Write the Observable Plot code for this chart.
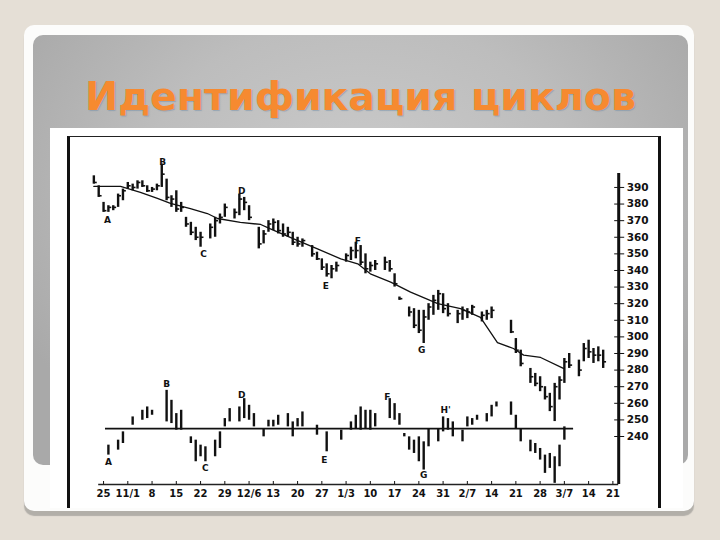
<!DOCTYPE html>
<html><head><meta charset="utf-8">
<script src="https://cdn.jsdelivr.net/npm/d3@7"></script>
<script src="https://cdn.jsdelivr.net/npm/@observablehq/plot@0.6"></script>
<style>
html,body{margin:0;padding:0}
body{width:720px;height:540px;background:#e5dfd6;position:relative;overflow:hidden;font-family:"DejaVu Sans",sans-serif}
#card{position:absolute;left:24px;top:25px;width:670px;height:486px;background:#fcfcfb;border-radius:10px;box-shadow:0 5px 1px #b2afa9}
#gray{position:absolute;left:33px;top:35px;width:655px;height:430px;border-radius:10px;background:radial-gradient(ellipse 60% 70% at 50% 35%,#cbcbcb 0%,#bdbdbd 55%,#a9a9a9 100%)}
#title{position:absolute;left:33px;top:73px;width:655px;text-align:center;font-family:"DejaVu Sans";font-weight:bold;font-size:39.5px;color:#f68a30;text-shadow:1px 1px 1px rgba(110,140,170,0.5)}
#chart{position:absolute;left:50px;top:128px;width:633px;height:380px;background:#fff}
#frame{position:absolute;left:17px;top:8px;width:594px;height:372px;border-left:3px solid #111;border-top:1.5px solid #222;border-right:3px solid #111;box-sizing:border-box}
#chart svg{position:absolute;left:0;top:0}
</style>
</head><body>
<div id="card"></div>
<div id="gray"></div>
<div id="title">Идентификация циклов</div>
<div id="chart"><div id="frame"></div></div>
<script>
// ---- price bars (trading-day index, high, low, close) ----
const barIdx   = [-2,-1,0,1,2,3,4,5,6,7,8,9,10,11,12,13,14,15,16,17,18,19,20,22,23,24,25,27,28,29,30,32,33,34,35,36,37,38,39,40,41,43,44,45,46,47,48,50,51,52,53,54,55,56,58,59,60,61,63,64,65,66,67,68,69,70,71,73,74,75,76,78,79,80,84,85,86,88,89,90,91,92,93,94,95,96,98,99,100,101,102,103];
const barHigh  = [397,391,381,379,379,386,389,393,392,394,394,391,390,392,404,395,385,388,381,372,369,366,363,368,372,374,380,377,386,384,379,366,364,370,371,370,368,366,363,360,359,355,351,347,344,343,345,350,354,357,355,350,345,346,348,346,338,324,318,317,316,316,320,325,328,326,320,316,318,317,319,315,316,318,310,299,292,281,278,276,270,266,272,276,287,290,286,296,298,293,294,292];
const barLow   = [392,384,375,375,376,378,382,389,388,389,390,387,387,388,390,382,378,375,375,366,361,358,354,359,360,368,372,371,373,376,370,353,356,363,364,362,360,360,355,354,354,348,346,340,336,335,339,345,346,347,343,338,339,340,340,339,330,322,312,305,302,296,310,313,316,314,312,308,310,311,313,309,310,311,302,290,282,272,270,267,262,255,249,262,272,281,276,285,287,284,285,281];
const barClose = [393,385,376,378,378,385,388,391,390,393,391,388,389,391,398,384,383,377,378,368,363,360,360,366,370,372,378,375,383,381,372,356,362,368,369,364,362,363,357,356,358,350,347,342,338,341,343,349,352,352,345,341,343,344,345,341,332,323,315,307,304,312,318,322,326,317,314,314,316,315,318,313,314,316,303,292,284,276,272,270,264,258,270,274,285,283,280,293,291,289,289,285];

// ---- moving average (vertices) ----
const maIdx = [-2,3.5,7.6,11.1,13.8,17.9,21.4,23.5,28.2,32.4,34.4,39.2,44.1,48.9,52.4,55,59.2,63.3,68.9,73.6,77.7,81.2,84.5,86.6,90.1,94.8];
const maVal = [390.6,390.6,387,383.4,380.4,377.3,374.3,371.3,369,367.7,365,359,353,347,344,338,333,327,320,317,311.7,296.6,293,289,287.6,281];

// ---- oscillator bars (index, high, low) ----
const oscIdx  = [1,3,4,6,8,9,10,13,14,15,16,18,19,20,21,23,24,25,26,28,29,30,31,33,34,35,36,38,39,40,41,44,46,49,51,52,53,54,55,56,59,60,61,62,63,64,65,66,67,69,70,71,72,74,75,76,77,79,80,81,84,85,86,88,89,90,91,92,93,94,95];
const oscHigh = [-10,-7,-2,7,11,13,11,23,17,9,11,-5,-7,-10,-11,-7,-2,6,12,13,18,14,9,0,5,5,8,9,4,6,10,2,-2,-1,4,8,13,11,11,9,18,15,9,-3,-5,-7,-5,-8,0,0,7,6,4,-1,7,6,8,9,14,16,16,8,0,-7,-9,-12,-16,-15,-17,-10,1];
const oscLow  = [-16,-13,-9,2,5,6,8,4,3,-1,-1,-9,-20,-17,-20,-17,-12,1,4,4,6,5,1,-5,1,1,2,1,-5,1,1,-4,-14,-7,-1,0,-1,0,-1,1,6,5,2,-5,-13,-15,-20,-25,-11,-8,-2,-1,-5,-8,1,2,5,4,7,13,8,0,-8,-14,-15,-19,-27,-24,-33,-23,-7];
const oscZeroFrom = 0.4, oscZeroTo = 96.9;

// ---- letter annotations ----
const priceLabelText = ["A","B","C","D","E","F","G"];
const priceLabelIdx  = [0.8,12.2,20.6,28.5,45.8,52.4,65.6];
const priceLabelVal  = [370.5,405,350,387.5,330.5,357.5,292];
const oscLabelText = ["A","B","C","D","E","F","G","H'"];
const oscLabelIdx  = [1,13,21,28.5,45.5,58.5,66,70.5];
const oscLabelVal  = [-20,27,-24,20,-19,19,-28,11];

// ---- axes ----
const yTicks = [390,380,370,360,350,340,330,320,310,300,290,280,270,260,250,240];
const xTickIdx = [0,5,10,15,20,25,30,35,40,45,50,55,60,65,70,75,80,85,90,95,100,105];
const xLabels = ["25","11/1","8","15","22","29","12/6","13","20","27","1/3","10","17","24","31","2/7","14","21","28","3/7","14","21"];

const bars = barIdx.map((d,k)=>({i:d,hi:barHigh[k],lo:barLow[k],c:barClose[k]}));
const ma = maIdx.map((d,k)=>({i:d,v:maVal[k]}));
const osc = oscIdx.map((d,k)=>({i:d,hi:oscHigh[k],lo:oscLow[k]}));
const pLab = priceLabelText.map((t,k)=>({t,i:priceLabelIdx[k],v:priceLabelVal[k]}));
const oLab = oscLabelText.map((t,k)=>({t,i:oscLabelIdx[k],v:oscLabelVal[k]}));

const xDomain = [-1,106.2];
const yDomain = [211.1,398.4];
const common = {width:633,height:380,marginLeft:48.2,marginRight:64.8,marginTop:45,marginBottom:24,
  style:{background:"transparent",color:"#111",fontFamily:"DejaVu Sans",fontWeight:"bold",fontSize:"10px",overflow:"visible"}};

const pricePlot = Plot.plot({
  ...common,
  x:{domain:xDomain,axis:null},
  y:{domain:yDomain,axis:null},
  marks:[
    Plot.ruleX([xDomain[1]],{stroke:"#111",strokeWidth:3}),
    Plot.ruleY([yDomain[0]],{stroke:"#222",strokeWidth:1.5}),
    Plot.axisY({anchor:"right",ticks:yTicks,tickSize:5,tickPadding:3,label:null,fontSize:10.5}),
    Plot.axisY({anchor:"right",ticks:yTicks,tickSize:-5,tickFormat:()=>"",label:null}),
    Plot.axisX({ticks:xTickIdx,tickSize:0,tickPadding:5,label:null,tickFormat:d=>xLabels[xTickIdx.indexOf(d)],fontSize:10}),
    Plot.axisX({ticks:xTickIdx,tickSize:-3,tickFormat:()=>"",label:null}),
    Plot.ruleX(bars,{x:"i",y1:"lo",y2:"hi",stroke:"#111",strokeWidth:2.4}),
    Plot.ruleY(bars,{y:"c",x1:"i",x2:d=>d.i+0.7,stroke:"#111",strokeWidth:1.6}),
    Plot.line(ma,{x:"i",y:"v",stroke:"#111",strokeWidth:1.3}),
    Plot.text(pLab,{x:"i",y:"v",text:"t",fontSize:9,fontWeight:"bold",fill:"#111"})
  ]
});

const oscPlot = Plot.plot({
  ...common,
  x:{domain:xDomain,axis:null},
  y:{domain:[-33.7,153.6],axis:null},
  marks:[
    Plot.ruleY([0],{x1:oscZeroFrom,x2:oscZeroTo,stroke:"#111",strokeWidth:1.8}),
    Plot.ruleX(osc,{x:"i",y1:"lo",y2:"hi",stroke:"#111",strokeWidth:2.4}),
    Plot.text(oLab,{x:"i",y:"v",text:"t",fontSize:9,fontWeight:"bold",fill:"#111"})
  ]
});

const chart = document.getElementById("chart");
chart.appendChild(pricePlot);
chart.appendChild(oscPlot);
</script>
</body></html>
